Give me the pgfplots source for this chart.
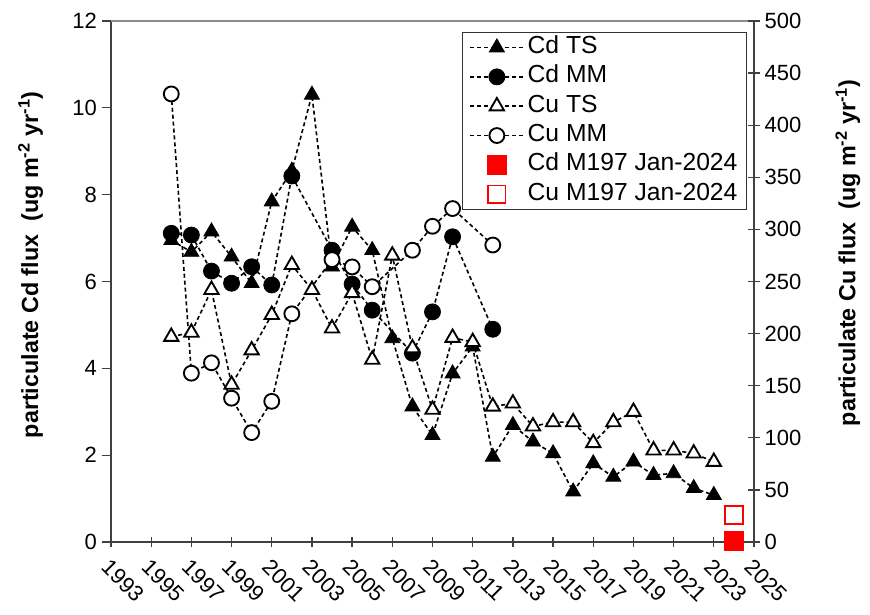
\documentclass[border=0pt]{standalone}
\usepackage{pgfplots}
\pgfplotsset{compat=1.18}
\usepackage{fontspec}
\setmainfont{Liberation Sans}

\pgfplotsset{
  serline/.style={black, line width=1.2pt, dash pattern=on 3pt off 2.2pt},
  cdts/.style={serline, mark=triangle*, mark size=6.5pt, mark options={solid, fill=black, draw=black, line width=0.6pt}},
  cdmm/.style={serline, mark=*, mark size=6pt, mark options={solid, fill=black, draw=black, line width=0.6pt}},
  cuts/.style={serline, mark=triangle*, mark size=6.2pt, mark options={solid, fill=white, draw=black, line width=1.4pt}},
  cumm/.style={serline, mark=*, mark size=5.6pt, mark options={solid, fill=white, draw=black, line width=1.4pt}},
  cdr/.style={only marks, mark=square*, mark size=7pt, mark options={solid, draw=red, fill=red, line width=0.6pt}},
  cur/.style={only marks, mark=square*, mark size=6.5pt, mark options={solid, draw=red, fill=white, line width=1.4pt}},
  tickfont/.style={font=\fontsize{16.5}{19}\selectfont},
}

\begin{document}
\begin{tikzpicture}[x=1pt,y=1pt]
\useasboundingbox (-83.25,-54) rectangle (569.25,406.5);
\begin{axis}[
  at={(0,0)}, anchor=south west, scale only axis,
  width=482.25pt, height=390.75pt,
  xmin=1993, xmax=2025, ymin=0, ymax=12,
  axis x line*=bottom, axis y line*=left,
  axis line style={black!75, line width=1.1pt, -},
  every outer x axis line/.append style={-},
  every outer y axis line/.append style={-},
  xtick={1993,1995,...,2025}, minor x tick num=1,
  ytick={0,2,...,12},
  tick align=outside,
  major tick length=7pt, minor tick length=4pt,
  major x tick style={yshift=3.5pt},
  minor x tick style={yshift=4pt},
  tick style={black!75, line width=1pt},
  xticklabel style={rotate=-45, anchor=north west, tickfont},
  yticklabel style={tickfont},
  /pgf/number format/assume math mode=true,
  /pgf/number format/1000 sep={},
  every axis y label/.style={at={(axis description cs:-0.125,0.532)}, rotate=90, anchor=center},
  ylabel={particulate Cd flux\ \ (ug m\textsuperscript{-2} yr\textsuperscript{-1})},
  ylabel style={font=\bfseries\fontsize{17.5}{21}\selectfont},
  clip=false,
]
\draw[black!45, line width=1pt] (rel axis cs:0,1) -- (rel axis cs:1,1);
\addplot[cdts] coordinates {
(1996,6.95) (1997,6.68) (1998,7.15) (1999,6.57) (2000,5.96) (2001,7.84) (2002,8.55)
(2003,10.3) (2004,6.34) (2005,7.26) (2006,6.72) (2007,4.69) (2008,3.12) (2009,2.46)
(2010,3.88) (2011,4.5) (2012,1.96) (2013,2.69) (2014,2.31) (2015,2.04) (2016,1.16)
(2017,1.81) (2018,1.50) (2019,1.85) (2020,1.54) (2021,1.58) (2022,1.24) (2023,1.08)
};
\addplot[cdmm] coordinates {
(1996,7.11) (1997,7.07) (1998,6.24) (1999,5.96) (2000,6.34) (2001,5.92) (2002,8.43)
(2004,6.72) (2005,5.94) (2006,5.34) (2008,4.35) (2009,5.30) (2010,7.03) (2012,4.90)
};
\addplot[cdr] coordinates {(2024,0.02)};
\end{axis}

\begin{axis}[
  at={(0,0)}, anchor=south west, scale only axis,
  width=482.25pt, height=390.75pt,
  xmin=1993, xmax=2025, ymin=0, ymax=500,
  axis x line=none, axis y line*=right,
  axis line style={black!75, line width=1.1pt, -},
  every outer y axis line/.append style={-},
  ytick={0,50,...,500},
  tick align=center, major tick length=9pt,
  tick style={black!75, line width=1pt},
  yticklabel style={tickfont},
  /pgf/number format/assume math mode=true,
  every axis y label/.style={at={(axis description cs:1.146,0.555)}, rotate=90, anchor=center},
  ylabel={particulate Cu flux\ \ (ug m\textsuperscript{-2} yr\textsuperscript{-1})},
  ylabel style={font=\bfseries\fontsize{17.5}{21}\selectfont},
  clip=false,
  legend image code/.code={\draw[mark repeat=2, mark phase=2] plot coordinates {(0pt,0pt) (20pt,0pt) (40pt,0pt)};},
  legend cell align=left,
  legend style={at={(0.9886,0.9795)}, anchor=north east, draw=black!80, line width=0.8pt,
    font=\fontsize{18.5}{22}\selectfont, inner xsep=5pt, inner ysep=2pt, row sep=3pt,
    nodes={inner sep=1.5pt, text height=12.5pt, text depth=3.5pt},
    /tikz/every odd column/.append style={column sep=1pt}},
]
\addlegendimage{cdts}\addlegendentry{Cd TS}
\addlegendimage{cdmm}\addlegendentry{Cd MM}
\addplot[cuts] coordinates {
(1996,197) (1997,201) (1998,242) (1999,151) (2000,184) (2001,218) (2002,266)
(2003,242) (2004,205) (2005,239) (2006,175) (2007,275) (2008,186) (2009,127)
(2010,196) (2011,192) (2012,130) (2013,133) (2014,111) (2015,115) (2016,115)
(2017,95) (2018,115) (2019,125) (2020,88) (2021,88) (2022,85) (2023,77)
};
\addlegendentry{Cu TS}
\addplot[cumm] coordinates {
(1996,430) (1997,162) (1998,172) (1999,138) (2000,105) (2001,135) (2002,219)
(2004,271) (2005,264) (2006,245) (2008,280) (2009,303) (2010,320) (2012,285)
};
\addlegendentry{Cu MM}
\addlegendimage{cdr}\addlegendentry{Cd M197 Jan-2024}
\addplot[cur] coordinates {(2024,26)};
\addlegendentry{Cu M197 Jan-2024}
\end{axis}
\end{tikzpicture}
\end{document}
